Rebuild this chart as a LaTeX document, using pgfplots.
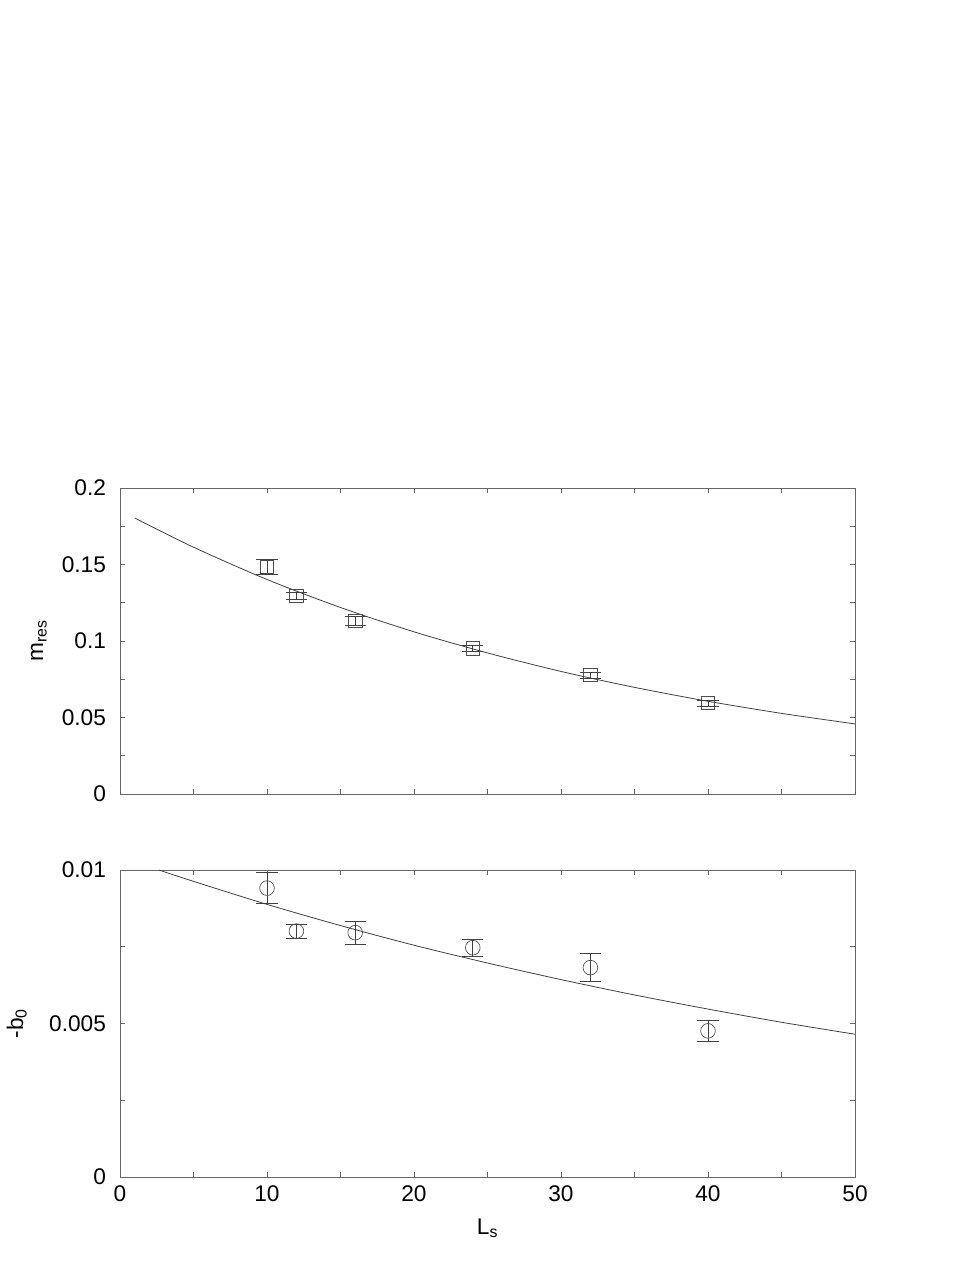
\documentclass[border=0pt]{standalone}
\usepackage{fontspec}
\setmainfont{Liberation Sans}
\usepackage{pgfplots}
\pgfplotsset{compat=1.18}

% fitted curves
\pgfplotstableread{
x y
1 0.1804
5 0.1613
10 0.1402
15 0.1219
20 0.1060
25 0.0922
30 0.0801
35 0.0697
40 0.0606
45 0.0527
50 0.0458
}\fitm
\pgfplotstableread{
x y
2.65 0.01
5 0.00963
10 0.00888
15 0.00819
20 0.00755
25 0.00697
30 0.00643
35 0.00593
40 0.00547
45 0.00504
50 0.00465
}\fitb
\pgfplotstableread{
x y e
10 0.1485 0.0050
12 0.1295 0.0020
16 0.1130 0.0030
24 0.0953 0.0020
32 0.0778 0.0020
40 0.0595 0.0020
}\mres
\pgfplotstableread{
x y e
10 0.00941 0.00050
12 0.00801 0.00023
16 0.00796 0.00037
24 0.00747 0.00028
32 0.00682 0.00045
40 0.00476 0.00034
}\bzero

\pgfplotsset{panel/.style={
  scale only axis, width=551.25pt,
  xmin=0, xmax=50, xtick={0,10,...,50}, minor x tick num=1,
  minor y tick num=1, scaled y ticks=false,
  tick align=inside, major tick length=4pt, minor tick length=4pt,
  axis line style={black!60, line width=0.6pt},
  every tick/.append style={black!60, line width=0.6pt},
  tick label style={font=\fontsize{17}{20}\selectfont},
  yticklabel style={xshift=-7pt},
  xticklabel style={yshift=-3pt},
  label style={font=\fontsize{17}{20}\selectfont},
  /pgf/number format/assume math mode=true,
},
fitline/.style={black!75, line width=0.6pt, smooth, no marks},
pts/.style={black!70, line width=0.5pt, only marks, mark options={fill=none, solid},
  error bars/y dir=both, error bars/y explicit,
  error bars/error bar style={black!75, line width=0.5pt},
  error bars/error mark options={rotate=90, mark size=8pt, black!75, line width=0.5pt}},
}

\begin{document}
\begin{tikzpicture}
\path (0,0) rectangle (732.75pt,948pt);

\begin{axis}[panel, at={(90pt,352.5pt)}, anchor=south west, height=229.5pt,
  ymin=0, ymax=0.2, ytick={0,0.05,0.1,0.15,0.2},
  yticklabels={0,0.05,0.1,0.15,0.2}, xticklabels={},
  ylabel={m\textsubscript{res}}, ylabel style={yshift=4.5pt}]
\addplot[fitline] table[x=x,y=y] {\fitm};
\addplot[pts, mark=square, mark size=5pt] table[x=x,y=y,y error=e] {\mres};
\end{axis}

\begin{axis}[panel, at={(90pt,65.25pt)}, anchor=south west, height=230.25pt,
  ymin=0, ymax=0.01, ytick={0,0.005,0.01},
  yticklabels={0,0.005,0.01},
  xlabel={L\textsubscript{s}}, xlabel style={yshift=-6pt},
  ylabel={-b\textsubscript{0}}, ylabel style={yshift=10pt}]
\addplot[fitline] table[x=x,y=y] {\fitb};
\addplot[pts, mark=o, mark size=5.5pt] table[x=x,y=y,y error=e] {\bzero};
\end{axis}
\end{tikzpicture}
\end{document}
